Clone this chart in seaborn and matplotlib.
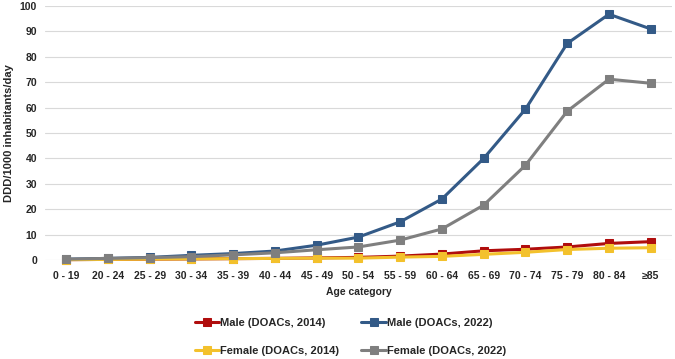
import seaborn as sns
import matplotlib.pyplot as plt
import pandas as pd

ages = ["0 - 19", "20 - 24", "25 - 29", "30 - 34", "35 - 39", "40 - 44", "45 - 49",
        "50 - 54", "55 - 59", "60 - 64", "65 - 69", "70 - 74", "75 - 79", "80 - 84", "≥85"]

male_2014 = [0.1, 0.2, 0.3, 0.4, 0.5, 0.6, 0.8, 1.0, 1.5, 2.3, 3.6, 4.2, 5.1, 6.5, 7.2]
female_2014 = [0.1, 0.2, 0.3, 0.4, 0.5, 0.6, 0.7, 0.7, 1.1, 1.4, 2.2, 3.0, 4.1, 4.6, 4.8]
male_2022 = [0.3, 0.6, 1.0, 1.8, 2.5, 3.5, 5.8, 9.0, 15.0, 24.0, 40.0, 59.4, 85.3, 96.8, 91.0]
female_2022 = [0.3, 0.6, 0.9, 1.3, 2.0, 2.8, 4.0, 5.1, 7.8, 12.2, 21.6, 37.3, 58.6, 71.2, 69.6]

series = [
    ("Male (DOACs, 2014)", male_2014, "#b00d0d"),
    ("Male (DOACs, 2022)", male_2022, "#335a87"),
    ("Female (DOACs, 2014)", female_2014, "#f3c12c"),
    ("Female (DOACs, 2022)", female_2022, "#7f7f7f"),
]

sns.set_style("white")
plt.rcParams["font.family"] = ["Liberation Sans", "DejaVu Sans"]

fig = plt.figure(figsize=(6.75, 3.59), dpi=100)
ax = fig.add_axes([0.067, 0.276, 0.928, 0.707])

for name, vals, color in series:
    df = pd.DataFrame({"age": ages, "value": vals})
    sns.lineplot(data=df, x="age", y="value", ax=ax, color=color, marker="s",
                 markersize=5.5, markeredgecolor=color, linewidth=2.2, label=name,
                 clip_on=False)

ax.set_ylim(0, 100)
ax.set_xlim(-0.5, 14.5)
ax.set_yticks(range(0, 101, 10))
ax.yaxis.grid(True, color="#d9d9d9", linewidth=0.8)
ax.set_axisbelow(True)
for s in ax.spines.values():
    s.set_visible(False)
ax.tick_params(axis="both", length=0, labelsize=7.5, labelcolor="#262626")
ax.tick_params(axis="x", pad=8)
ax.tick_params(axis="y", pad=6)
for lab in ax.get_xticklabels() + ax.get_yticklabels():
    lab.set_fontweight("bold")
ax.set_xlabel("Age category", fontsize=7.5, fontweight="bold", color="#262626", labelpad=4)
ax.set_ylabel("DDD/1000 inhabitants/day", fontsize=8, fontweight="bold", color="#262626", labelpad=4)

h, l = ax.get_legend_handles_labels()
order = [0, 2, 1, 3]
ax.legend([h[i] for i in order], [l[i] for i in order], ncol=2, frameon=False,
          loc="lower center", bbox_to_anchor=(0.519, -0.014), bbox_transform=fig.transFigure,
          prop={"weight": "bold", "size": 8}, handlelength=2.2, handletextpad=0.1,
          columnspacing=2.0, labelspacing=1.65, borderpad=0.2)

plt.savefig("out.png", dpi=100)
